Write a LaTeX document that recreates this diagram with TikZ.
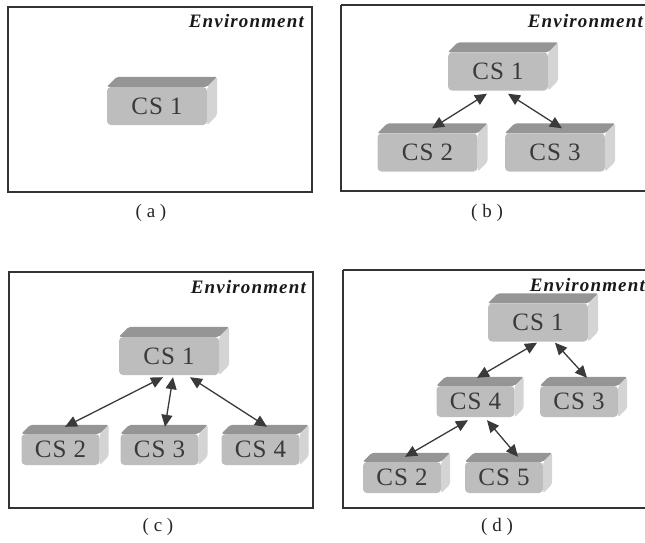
\documentclass[tikz,border=0pt]{standalone}
\usepackage{fontspec}
\setmainfont{Liberation Serif}
\newfontfamily\envfont[LetterSpace=6]{Liberation Serif}
\newfontfamily\csfont[LetterSpace=4]{Liberation Serif}
\usetikzlibrary{arrows.meta}

\definecolor{csfront}{HTML}{BDBDBD}
\definecolor{cstopc}{HTML}{959595}
\definecolor{csside}{HTML}{D4D4D4}
\definecolor{ink}{HTML}{3A3A3A}

% top and right faces of a block
\newcommand{\csfaces}[2][9]{%
	\fill[cstopc, rounded corners=2pt] (#2.north west) -- ([xshift=#1pt,yshift=#1pt]#2.north west)
		-- ([xshift=#1pt,yshift=#1pt]#2.north east) -- (#2.north east) -- cycle;
	\fill[csside, rounded corners=2pt] (#2.north east) -- ([xshift=#1pt,yshift=#1pt]#2.north east)
		-- ([xshift=#1pt,yshift=#1pt]#2.south east) -- (#2.south east) -- cycle;
}

\begin{document}
\begin{tikzpicture}[x=1pt, y=-1pt,
	csbig/.style={fill=csfront, rounded corners=4pt, minimum width=100pt, minimum height=38pt,
		inner sep=0pt, text=ink, font=\csfont\fontsize{25}{28}\selectfont},
	cssmall/.style={csbig, minimum width=78pt, minimum height=31pt},
	envlabel/.style={anchor=east, inner sep=0pt, text=black!90, font=\envfont\bfseries\itshape\fontsize{19}{22}\selectfont},
	caption/.style={font=\fontsize{19}{22}\selectfont, text=black!85},
	envframe/.style={draw=black!80, line width=1.4pt},
	link/.style={draw=ink, line width=1.3pt, {Triangle[length=12pt,width=11pt]}-{Triangle[length=12pt,width=11pt]}}]

	\useasboundingbox (0,0) rectangle (645,542);

	% (a)
	\draw[envframe] (8,7) rectangle (312,192);
	\node[envlabel] (enva) at (304,21) {Environment};
	\node[csbig] (a1) at (157,106) {CS 1};
	\csfaces[10]{a1}
	\node[caption] (capa) at (151,213) {( a )};

	% (b)
	\draw[envframe] (341,5) -- (650,5) (341,5) -- (341,191) -- (650,191);
	\node[envlabel] (envb) at (643,21) {Environment};
	\node[csbig] (b1) at (498,71.5) {CS 1};
	\node[csbig] (b2) at (427.5,152.5) {CS 2};
	\node[csbig] (b3) at (555,152.5) {CS 3};
	\foreach \n in {b1,b2,b3} {\csfaces[10]{\n}}
	\draw[link] ([xshift=-11pt,yshift=-3pt]b1.south) -- ([xshift=4.5pt,yshift=5pt]b2.north);
	\draw[link] ([xshift=10pt,yshift=-3pt]b1.south) -- ([xshift=7pt,yshift=5pt]b3.north);
	\node[caption] (capb) at (487,213) {( b )};

	% (c)
	\draw[envframe] (9,272) rectangle (313,508);
	\node[envlabel] (envc) at (306,287) {Environment};
	\node[csbig] (c1) at (169,356) {CS 1};
	\node[cssmall] (c2) at (60.5,449.5) {CS 2};
	\node[cssmall] (c3) at (159.5,449.5) {CS 3};
	\node[cssmall] (c4) at (260.5,449.5) {CS 4};
	\csfaces[10]{c1}
	\foreach \n in {c2,c3,c4} {\csfaces{\n}}
	\draw[link] ([xshift=-6pt,yshift=-2pt]c1.south) -- ([xshift=4.5pt,yshift=7pt]c2.north);
	\draw[link] ([xshift=4pt,yshift=-2pt]c1.south) -- ([xshift=5.5pt,yshift=7pt]c3.north);
	\draw[link] ([xshift=21pt,yshift=-2pt]c1.south) -- ([xshift=6.5pt,yshift=7pt]c4.north);
	\node[caption] (capc) at (158,527) {( c )};

	% (d)
	\draw[envframe] (343,270) -- (650,270) (343,270) -- (343,508) -- (650,508);
	\node[envlabel] (envd) at (645,285) {Environment};
	\node[csbig] (d1) at (538,322.5) {CS 1};
	\node[cssmall] (d4) at (475.5,401.5) {CS 4};
	\node[cssmall] (d3) at (579,401.5) {CS 3};
	\node[cssmall] (d2) at (402,477.5) {CS 2};
	\node[cssmall] (d5) at (504,477.5) {CS 5};
	\csfaces[10]{d1}
	\foreach \n in {d2,d3,d4,d5} {\csfaces{\n}}
	\draw[link] ([xshift=-1pt,yshift=-1pt]d1.south) -- ([xshift=1.5pt,yshift=8pt]d4.north);
	\draw[link] ([xshift=17pt,yshift=-1pt]d1.south) -- ([xshift=8pt,yshift=8pt]d3.north);
	\draw[link] ([xshift=-7.5pt,yshift=-3pt]d4.south) -- ([xshift=3pt,yshift=5pt]d2.north);
	\draw[link] ([xshift=11.5pt,yshift=-3pt]d4.south) -- ([xshift=14pt,yshift=5pt]d5.north);
	\node[caption] (capd) at (497,527) {( d )};
\end{tikzpicture}
\end{document}
